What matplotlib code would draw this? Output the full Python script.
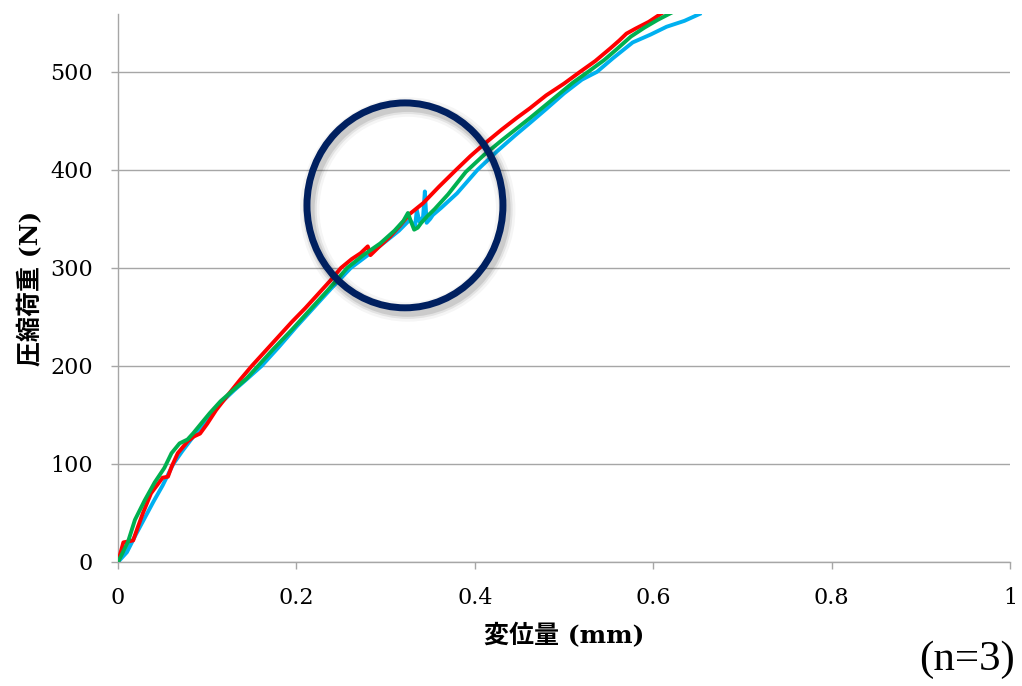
import matplotlib
matplotlib.use("Agg")
import matplotlib.pyplot as plt
from matplotlib.patches import Ellipse
import matplotlib.patheffects as pe

# ---- data (displacement mm, load N) ----
red_x = [0, 0.006, 0.017, 0.022, 0.028, 0.037, 0.050, 0.056, 0.060, 0.067, 0.078, 0.085, 0.092, 0.100,
         0.110, 0.122, 0.137, 0.150, 0.165, 0.180, 0.195, 0.210, 0.225, 0.238, 0.250, 0.262, 0.272, 0.280,
         0.283, 0.292, 0.305, 0.316, 0.327, 0.342, 0.360, 0.379, 0.395, 0.410, 0.430, 0.447, 0.462, 0.480,
         0.500, 0.518, 0.535, 0.552, 0.562, 0.570, 0.580, 0.595, 0.610]
red_y = [0, 20, 22, 35, 50, 70, 86, 87, 97, 111, 123, 128, 131, 141,
         155, 169, 186, 200, 215, 230, 245, 259, 274, 287, 300, 309, 315, 322,
         313, 321, 332, 343, 355, 366, 383, 400, 414, 426, 441, 453, 463, 476,
         488, 500, 511, 524, 532, 539, 544, 551, 560]

green_x = [0, 0.011, 0.019, 0.030, 0.041, 0.052, 0.060, 0.069, 0.078, 0.084, 0.093, 0.103, 0.115, 0.130,
           0.144, 0.157, 0.175, 0.195, 0.215, 0.235, 0.257, 0.275, 0.294, 0.310, 0.320, 0.325, 0.329,
           0.332, 0.336, 0.340, 0.346, 0.355, 0.370, 0.390, 0.410, 0.430, 0.462, 0.490, 0.510, 0.527,
           0.545, 0.559, 0.575, 0.590, 0.605, 0.622]
green_y = [0, 20, 43, 63, 81, 96, 111, 121, 125, 131, 141, 152, 164, 176,
           187, 200, 218, 237, 257, 277, 300, 313, 325, 338, 348, 356, 346,
           339, 341, 346, 352, 360, 375, 398, 415, 430, 453, 474, 489, 500,
           512, 523, 536, 545, 553, 561]

cyan_x = [0, 0.010, 0.020, 0.030, 0.040, 0.050, 0.062, 0.072, 0.082, 0.092, 0.103, 0.115, 0.130, 0.145,
          0.161, 0.180, 0.200, 0.220, 0.240, 0.261, 0.280, 0.300, 0.315, 0.327, 0.333, 0.335, 0.338,
          0.342, 0.344, 0.346, 0.350, 0.353, 0.362, 0.380, 0.403, 0.425, 0.445, 0.462, 0.480, 0.500,
          0.520, 0.537, 0.555, 0.577, 0.597, 0.615, 0.635, 0.652]
cyan_y = [0, 10, 28, 45, 62, 78, 100, 113, 125, 137, 150, 162, 175, 187,
          200, 219, 240, 260, 280, 300, 313, 327, 338, 349, 342, 359, 347,
          352, 378, 346, 350, 354, 361, 376, 400, 419, 435, 448, 462, 478,
          492, 500, 514, 530, 538, 546, 552, 559]

x_ticks = [0, 0.2, 0.4, 0.6, 0.8, 1]
x_tick_labels = ["0", "0.2", "0.4", "0.6", "0.8", "1"]
y_ticks = [0, 100, 200, 300, 400, 500]
y_tick_labels = ["0", "100", "200", "300", "400", "500"]

x_label = "変位量 (mm)"
y_label = "圧縮荷重 (N)"
note = "(n=3)"

# highlight circle (data coords)
circle_center = (0.3217, 363.8)
circle_w = 0.2197
circle_h = 209

# ---- figure ----
fig = plt.figure(figsize=(10.22, 6.86), dpi=100)
ax = fig.add_axes([118/1022, 1 - 562/686, (1010-118)/1022, (562-14)/686])

grid_c = "#a6a6a6"
ax.plot(cyan_x, cyan_y, color="#00b0f0", lw=2.8, zorder=3, solid_joinstyle="round")
ax.plot(red_x, red_y, color="#ff0000", lw=2.8, zorder=4, solid_joinstyle="round")
ax.plot(green_x, green_y, color="#00b050", lw=2.8, zorder=5, solid_joinstyle="round")

ell = Ellipse(circle_center, circle_w, circle_h, fill=False, edgecolor="#002060", lw=5, zorder=6)
ell.set_path_effects([
    pe.Stroke(linewidth=14, foreground="#000000", alpha=0.04, offset=(2, -3)),
    pe.Stroke(linewidth=10, foreground="#000000", alpha=0.07, offset=(2, -3)),
    pe.Stroke(linewidth=7, foreground="#000000", alpha=0.10, offset=(2, -3)),
    pe.Normal(),
])
ax.add_patch(ell)

ax.set_xlim(0, 1)
ax.set_ylim(0, 559)
ax.set_xticks(x_ticks)
ax.set_xticklabels(x_tick_labels)
ax.set_yticks(y_ticks)
ax.set_yticklabels(y_tick_labels)

ax.grid(axis="y", color=grid_c, lw=1.0)
ax.set_axisbelow(True)
for s in ["top", "right"]:
    ax.spines[s].set_visible(False)
for s in ["left", "bottom"]:
    ax.spines[s].set_color(grid_c)
    ax.spines[s].set_linewidth(1.0)

ax.tick_params(axis="both", direction="out", length=5, width=1.0, color=grid_c,
               labelsize=16, labelcolor="#000000")
ax.tick_params(axis="x", pad=13)
ax.tick_params(axis="y", pad=13)
for lbl in ax.get_xticklabels() + ax.get_yticklabels():
    lbl.set_family("DejaVu Serif")

ax.set_xlabel(x_label, fontsize=18, fontweight="bold", family=["DejaVu Serif", "Noto Sans CJK JP"], labelpad=10)
ax.set_ylabel(y_label, fontsize=18, fontweight="bold", family=["DejaVu Serif", "Noto Sans CJK JP"], labelpad=5)

fig.text(0.993, 0.038, note, ha="right", va="center", fontsize=31, family="Liberation Serif")

fig.savefig("out.png", dpi=100)
